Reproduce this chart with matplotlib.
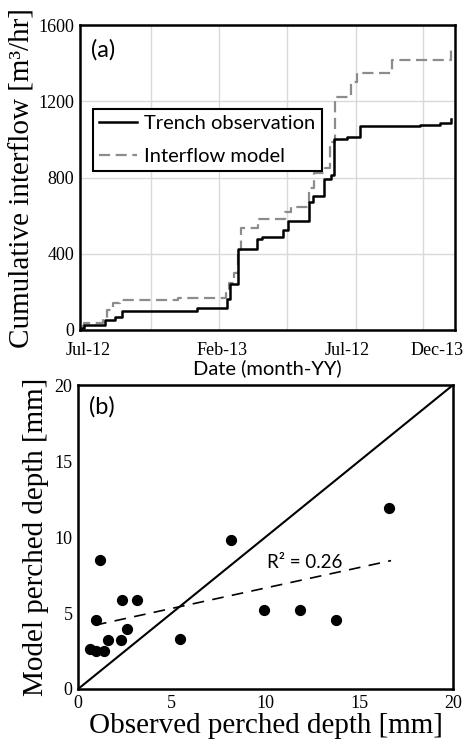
import matplotlib
matplotlib.use("Agg")
import matplotlib.pyplot as plt

# ---------- Panel (a) data: days since start of Jul-2012 ----------
trench_days = [3, 6, 36, 51, 61, 170, 214, 218, 230, 257, 264, 295, 302, 333, 339, 355, 365, 369, 389, 407, 494, 523, 540]
trench_vals = [10, 25, 50, 70, 100, 115, 160, 240, 425, 475, 490, 525, 570, 670, 705, 790, 815, 1000, 1015, 1070, 1075, 1085, 1110]

model_days = [3, 6, 33, 39, 48, 58, 142, 212, 216, 224, 230, 234, 259, 298, 307, 333, 340, 356, 363, 371, 394, 403, 453, 539]
model_vals = [20, 37, 60, 105, 140, 158, 168, 200, 247, 300, 420, 535, 580, 620, 645, 745, 825, 850, 985, 1225, 1300, 1350, 1420, 1470]

date_tick_pos = [12, 206, 389, 520]
date_tick_labels = ["Jul-12", "Feb-13", "Jul-12", "Dec-13"]
date_grid_pos = [103, 202, 301, 401, 499]
flow_ticks = [0, 400, 800, 1200, 1600]

# ---------- Panel (b) data ----------
observed = [1.17, 8.16, 16.6, 0.96, 2.35, 3.15, 9.92, 11.84, 13.76, 5.44, 0.64, 0.96, 1.39, 1.6, 2.29, 2.61]
modelled = [8.49, 9.8, 11.9, 4.54, 5.86, 5.86, 5.2, 5.2, 4.54, 3.29, 2.63, 2.5, 2.5, 3.22, 3.22, 3.95]
fit_x = [0.9, 16.7]
fit_y = [4.2, 8.45]
depth_ticks = [0, 5, 10, 15, 20]

SERIF = "Liberation Serif"
SANS = "Lato"

fig = plt.figure(figsize=(4.65, 7.43), dpi=100)

# ---------------- Panel (a) ----------------
ax1 = fig.add_axes([0.172, 0.556, 0.806, 0.410])
ax1.plot(model_days, model_vals, drawstyle="steps-post", color="#8c8c8c", lw=1.6,
         dashes=(5, 2.5), label="Interflow model")
ax1.plot(trench_days, trench_vals, drawstyle="steps-post", color="black", lw=1.8,
         label="Trench observation")
ax1.set_xlim(0, 545)
ax1.set_ylim(0, 1600)
ax1.set_xticks(date_tick_pos)
ax1.set_xticklabels(date_tick_labels, fontfamily=SERIF, fontsize=13)
ax1.set_xticks(date_grid_pos, minor=True)
ax1.set_yticks(flow_ticks)
ax1.set_yticklabels([str(v) for v in flow_ticks], fontfamily=SERIF, fontsize=13)
ax1.tick_params(axis="x", which="both", length=0, pad=9)
ax1.tick_params(axis="y", which="both", length=0, pad=4)
ax1.grid(True, axis="x", which="minor", color="#d9d9d9", lw=1)
ax1.grid(True, axis="y", which="major", color="#d9d9d9", lw=1)
ax1.set_axisbelow(True)
for s in ax1.spines.values():
    s.set_linewidth(1.8)
ax1.set_xlabel("Date (month-YY)", fontfamily=SANS, fontsize=14.5, labelpad=0)
ax1.set_ylabel("Cumulative interflow [m³/hr]", fontfamily=SERIF, fontsize=21, labelpad=2)
ax1.text(0.03, 0.955, "(a)", transform=ax1.transAxes, fontfamily=SANS, fontsize=17,
         va="top", ha="left")
h, l = ax1.get_legend_handles_labels()
leg = ax1.legend(h[::-1], l[::-1], loc="upper left", bbox_to_anchor=(0.035, 0.725),
                 prop={"family": SANS, "size": 14.5}, frameon=True, fancybox=False,
                 edgecolor="black", framealpha=1, handlelength=1.9, handletextpad=0.35,
                 borderpad=0.3, labelspacing=0.8, borderaxespad=0)
leg.get_frame().set_linewidth(1.5)

# ---------------- Panel (b) ----------------
ax2 = fig.add_axes([0.168, 0.0727, 0.806, 0.409])
ax2.plot([0, 20], [0, 20], color="black", lw=1.5)
ax2.plot(fit_x, fit_y, color="black", lw=1.2, dashes=(7, 5))
ax2.scatter(observed, modelled, s=50, color="black", zorder=3)
ax2.set_xlim(0, 20)
ax2.set_ylim(0, 20)
ax2.set_xticks(depth_ticks)
ax2.set_yticks(depth_ticks)
ax2.set_xticklabels([str(v) for v in depth_ticks], fontfamily=SERIF, fontsize=13)
ax2.set_yticklabels([str(v) for v in depth_ticks], fontfamily=SERIF, fontsize=13)
ax2.tick_params(axis="both", length=0, pad=4)
for s in ax2.spines.values():
    s.set_linewidth(1.8)
ax2.set_xlabel("Observed perched depth [mm]", fontfamily=SERIF, fontsize=21, labelpad=1)
ax2.set_ylabel("Model perched depth [mm]", fontfamily=SERIF, fontsize=21, labelpad=4)
ax2.text(0.03, 0.965, "(b)", transform=ax2.transAxes, fontfamily=SANS, fontsize=17,
         va="top", ha="left")
ax2.text(10.1, 8.3, "R² = 0.26", fontfamily=SANS, fontsize=13.5, va="center", ha="left")

fig.savefig("out.png", dpi=100)
